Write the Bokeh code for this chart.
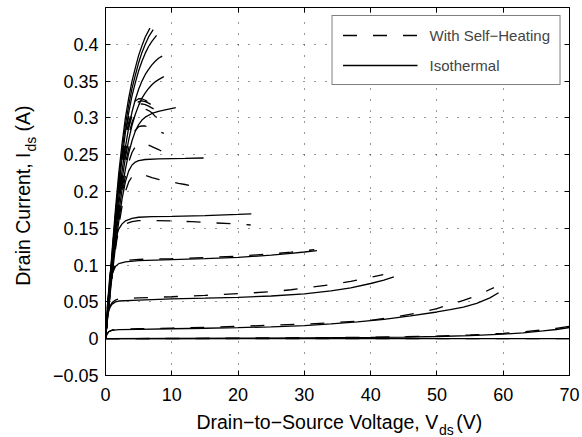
import math
from bokeh.plotting import figure
from bokeh.models import (ColumnDataSource, FixedTicker, LinearAxis, Legend,
                          LegendItem, Range1d)
from bokeh.layouts import row, column
from bokeh.core.properties import value
from bokeh.embed import file_html
from bokeh.resources import INLINE

# ---------------- data ----------------
x_ticks = [0, 10, 20, 30, 40, 50, 60, 70]
y_ticks = [-0.05, 0, 0.05, 0.1, 0.15, 0.2, 0.25, 0.3, 0.35, 0.4]
y_tick_labels = ["\u22120.05", "0", "0.05", "0.1", "0.15", "0.2", "0.25", "0.3", "0.35", "0.4"]

# curve A (highest gate bias)
vds_iso_a = [0, 0.5, 1, 1.5, 2, 2.5, 3, 3.5, 4, 4.5, 5, 5.5, 6, 6.7]
ids_iso_a = [0, 0.062, 0.12, 0.175, 0.225, 0.265, 0.3, 0.327, 0.35, 0.368, 0.385, 0.398, 0.41, 0.422]
vds_sh_a = [0, 0.5, 1, 1.5, 2, 2.5, 3, 3.5, 4, 4.5, 5, 5.5, 6, 6.5, 7]
ids_sh_a = [0, 0.06, 0.115, 0.168, 0.213, 0.25, 0.28, 0.302, 0.316, 0.323, 0.326, 0.326, 0.324, 0.321, 0.318]

# curve B
vds_iso_b = [0, 0.5, 1, 1.5, 2, 2.5, 3, 3.5, 4, 4.5, 5, 5.5, 6, 6.5, 7.2]
ids_iso_b = [0, 0.058, 0.115, 0.168, 0.215, 0.255, 0.29, 0.317, 0.34, 0.358, 0.375, 0.389, 0.4, 0.41, 0.42]
vds_sh_b = [0, 0.5, 1, 1.5, 2, 2.5, 3, 3.5, 4, 4.5, 5, 5.5, 6, 6.5, 7.3]
ids_sh_b = [0, 0.056, 0.11, 0.162, 0.206, 0.243, 0.272, 0.294, 0.309, 0.318, 0.322, 0.323, 0.322, 0.32, 0.316]

# curve C
vds_iso_c = [0, 0.5, 1, 1.5, 2, 2.5, 3, 3.5, 4, 4.5, 5, 5.5, 6, 6.5, 7, 7.7]
ids_iso_c = [0, 0.056, 0.11, 0.16, 0.205, 0.245, 0.28, 0.307, 0.33, 0.348, 0.364, 0.377, 0.388, 0.397, 0.404, 0.412]
vds_sh_c = [0, 0.5, 1, 1.5, 2, 2.5, 3, 3.5, 4, 4.5, 5, 5.5, 6, 6.5, 7.5]
ids_sh_c = [0, 0.054, 0.105, 0.155, 0.198, 0.235, 0.264, 0.287, 0.303, 0.313, 0.318, 0.319, 0.318, 0.316, 0.311]

# curve D
vds_iso_d = [0, 0.5, 1, 1.5, 2, 2.5, 3, 3.5, 4, 4.5, 5, 5.5, 6, 6.5, 7, 7.5, 8, 8.55]
ids_iso_d = [0, 0.052, 0.102, 0.15, 0.192, 0.228, 0.26, 0.287, 0.308, 0.325, 0.339, 0.35, 0.359, 0.366, 0.372, 0.377, 0.381, 0.384]
vds_sh_d = [0, 0.5, 1, 1.5, 2, 2.5, 3, 3.5, 4, 4.5, 5, 5.5, 6, 6.5, 7, 7.5, 8, 8.5, 9.2]
ids_sh_d = [0, 0.05, 0.098, 0.145, 0.186, 0.222, 0.252, 0.276, 0.294, 0.305, 0.311, 0.313, 0.312, 0.31, 0.307, 0.302, 0.299, 0.296, 0.293]

# curve E
vds_iso_e = [0, 0.5, 1, 1.5, 2, 2.5, 3, 3.5, 4, 4.5, 5, 5.5, 6, 6.5, 7, 7.5, 8, 8.8]
ids_iso_e = [0, 0.05, 0.097, 0.142, 0.182, 0.216, 0.246, 0.27, 0.29, 0.305, 0.317, 0.327, 0.334, 0.34, 0.345, 0.349, 0.352, 0.356]
vds_sh_e = [0, 0.5, 1, 1.5, 2, 2.5, 3, 3.5, 4, 4.5, 5, 5.5, 6, 6.5, 7, 7.5, 8, 8.8]
ids_sh_e = [0, 0.048, 0.094, 0.138, 0.176, 0.209, 0.237, 0.259, 0.274, 0.283, 0.288, 0.289, 0.289, 0.287, 0.285, 0.284, 0.282, 0.279]

# curve F
vds_iso_f = [0, 0.5, 1, 1.5, 2, 2.5, 3, 3.5, 4, 4.5, 5, 5.5, 6, 7, 8, 9, 10.6]
ids_iso_f = [0, 0.047, 0.092, 0.134, 0.171, 0.203, 0.23, 0.252, 0.269, 0.282, 0.291, 0.297, 0.301, 0.306, 0.309, 0.311, 0.314]
vds_sh_f = [0, 0.5, 1, 1.5, 2, 2.5, 3, 3.5, 4, 4.5, 5, 5.5, 6, 6.5, 7, 7.5, 8, 8.6]
ids_sh_f = [0, 0.046, 0.09, 0.131, 0.166, 0.196, 0.221, 0.24, 0.253, 0.261, 0.265, 0.266, 0.265, 0.263, 0.261, 0.259, 0.257, 0.254]

# curve G
vds_iso_g = [0, 0.5, 1, 1.5, 2, 2.5, 3, 3.5, 4, 4.5, 5, 6, 8, 10, 12, 14.8]
ids_iso_g = [0, 0.044, 0.086, 0.125, 0.159, 0.19, 0.213, 0.228, 0.236, 0.24, 0.242, 0.2435, 0.2443, 0.2447, 0.245, 0.2455]
vds_sh_g = [0, 0.5, 1, 1.5, 2, 2.5, 3, 3.5, 4, 4.5, 5, 5.5, 6, 7, 8, 9, 10, 11, 12, 12.8]
ids_sh_g = [0, 0.043, 0.084, 0.121, 0.153, 0.18, 0.2, 0.213, 0.22, 0.223, 0.224, 0.2235, 0.222, 0.219, 0.2165, 0.2145, 0.213, 0.211, 0.2095, 0.208]

# curve H
vds_iso_h = [0, 0.3, 0.6, 1, 1.5, 2, 2.5, 3, 4, 5, 7, 10, 15, 20, 22]
ids_iso_h = [0, 0.045, 0.08, 0.11, 0.135, 0.149, 0.156, 0.16, 0.1635, 0.165, 0.1658, 0.1663, 0.1672, 0.1688, 0.1697]
vds_sh_h = [0, 0.3, 0.6, 1, 1.5, 2, 2.5, 3, 4, 5, 7, 10, 13, 16, 19, 21.9]
ids_sh_h = [0, 0.045, 0.079, 0.107, 0.131, 0.144, 0.152, 0.156, 0.159, 0.1605, 0.1605, 0.16, 0.159, 0.1575, 0.1562, 0.1545]

# curve I
vds_iso_i = [0, 0.25, 0.5, 0.75, 1, 1.5, 2, 3, 5, 10, 15, 20, 25, 28, 30, 31.9]
ids_iso_i = [0, 0.035, 0.06, 0.077, 0.088, 0.098, 0.102, 0.1045, 0.106, 0.1075, 0.1088, 0.1105, 0.1135, 0.1158, 0.1178, 0.1198]
vds_sh_i = [0, 0.25, 0.5, 0.75, 1, 1.5, 2, 3, 5, 10, 15, 20, 25, 28, 31.5]
ids_sh_i = [0, 0.035, 0.061, 0.079, 0.09, 0.1, 0.104, 0.1065, 0.1078, 0.1088, 0.1102, 0.1122, 0.1152, 0.1175, 0.121]

# curve J
vds_iso_j = [0, 0.2, 0.4, 0.7, 1, 1.5, 2, 5, 10, 15, 20, 25, 30, 34, 37, 40, 42, 43.5]
ids_iso_j = [0, 0.022, 0.035, 0.043, 0.047, 0.05, 0.0512, 0.0525, 0.054, 0.055, 0.0562, 0.058, 0.061, 0.065, 0.069, 0.075, 0.0795, 0.084]
vds_sh_j = [0, 0.2, 0.4, 0.7, 1, 1.5, 2, 5, 10, 15, 20, 25, 28, 31, 34, 37, 40, 41.9]
ids_sh_j = [0, 0.022, 0.036, 0.045, 0.049, 0.0525, 0.054, 0.0555, 0.057, 0.0588, 0.0612, 0.0638, 0.0665, 0.07, 0.0735, 0.078, 0.0835, 0.087]

# curve K
vds_iso_k = [0, 0.2, 0.5, 1, 2, 5, 10, 15, 20, 25, 30, 34, 38, 42, 46, 50, 52, 54, 56, 58, 59.3]
ids_iso_k = [0, 0.006, 0.0095, 0.0112, 0.0122, 0.0128, 0.0135, 0.0142, 0.015, 0.0162, 0.0178, 0.0202, 0.0228, 0.0262, 0.031, 0.0363, 0.0395, 0.043, 0.048, 0.0555, 0.0625]
vds_sh_k = [0, 0.2, 0.5, 1, 2, 5, 10, 15, 20, 25, 30, 35, 40, 44, 48, 50, 52, 54, 56, 58.6]
ids_sh_k = [0, 0.006, 0.0098, 0.0118, 0.0128, 0.0135, 0.0145, 0.0155, 0.0168, 0.0183, 0.0198, 0.0222, 0.025, 0.03, 0.0363, 0.041, 0.0465, 0.052, 0.0585, 0.0695]

# curve L (near threshold)
vds_iso_l = [0, 10, 20, 30, 40, 45, 50, 55, 60, 63, 66, 68, 70]
ids_iso_l = [0, 0.0003, 0.0006, 0.001, 0.0017, 0.0022, 0.003, 0.0042, 0.0062, 0.008, 0.0105, 0.0125, 0.0152]
vds_sh_l = [0, 10, 20, 30, 40, 45, 50, 55, 60, 63, 66, 68, 70]
ids_sh_l = [0, 0.0004, 0.0008, 0.0013, 0.002, 0.0026, 0.0035, 0.005, 0.0073, 0.0093, 0.012, 0.014, 0.0168]

# curve M (off)
vds_iso_m = [0, 70]
ids_iso_m = [0, 0]
vds_sh_m = [0, 70]
ids_sh_m = [0, 0]

legend_labels = ["With Self\u2212Heating", "Isothermal"]
x_label = ["Drain\u2212to\u2212Source Voltage, V", "ds", "(V)"]
y_label = ["Drain Current, I", "ds", "(A)"]

# ---------------- layout constants ----------------
FONT = "Liberation Sans"
W, H = 582, 437
YLAB_W = 45          # strip at the left holding the y label
XLAB_H = 25          # strip at the bottom holding the x label
FL, FT, FW, FH = 105, 7, 464, 368   # frame in page pixels
MAIN_W, MAIN_H = W - YLAB_W, H - XLAB_H
LBL = "19.5px"
SUB = "14px"

p = figure(width=MAIN_W, height=MAIN_H, output_backend="svg", toolbar_location=None,
           title=None,
           x_range=Range1d(0, 70), y_range=Range1d(-0.05, 0.45),
           min_border_left=FL - YLAB_W, min_border_right=W - FL - FW,
           min_border_top=FT, min_border_bottom=MAIN_H - FT - FH,
           background_fill_color="white", border_fill_color="white")
p.outline_line_color = "black"
p.outline_line_width = 1

for ax in (p.xaxis[0], p.yaxis[0]):
    ax.axis_line_color = "black"
    ax.major_tick_in = 5
    ax.major_tick_out = 0
    ax.minor_tick_line_color = None
    ax.major_label_text_font = FONT
    ax.major_label_text_font_size = "18px"
    ax.major_label_text_color = "black"
    ax.axis_label = None

p.xaxis[0].ticker = FixedTicker(ticks=x_ticks)
p.yaxis[0].ticker = FixedTicker(ticks=y_ticks)
p.yaxis[0].major_label_overrides = {t: s for t, s in zip(y_ticks, y_tick_labels)}
p.xaxis[0].major_label_standoff = 12
p.yaxis[0].major_label_standoff = 7

# mirrored ticks on top and right (box on)
top_ax = LinearAxis(ticker=FixedTicker(ticks=x_ticks), major_tick_in=5, major_tick_out=0,
                    minor_tick_line_color=None, major_label_text_font_size="0px",
                    major_label_standoff=0, axis_line_color="black",
                    major_label_overrides={t: "" for t in x_ticks})
right_ax = LinearAxis(ticker=FixedTicker(ticks=y_ticks), major_tick_in=5, major_tick_out=0,
                      minor_tick_line_color=None, major_label_text_font_size="0px",
                      major_label_standoff=0, axis_line_color="black",
                      major_label_overrides={t: "" for t in y_ticks})
p.add_layout(top_ax, "above")
p.add_layout(right_ax, "right")

for g in (p.xgrid[0], p.ygrid[0]):
    g.grid_line_color = "#333333"
    g.grid_line_dash = "1 10"
    g.grid_line_width = 1
p.xgrid[0].ticker = FixedTicker(ticks=x_ticks)
p.ygrid[0].ticker = FixedTicker(ticks=y_ticks)

sh_src = ColumnDataSource(dict(
    xs=[vds_sh_a, vds_sh_b, vds_sh_c, vds_sh_d, vds_sh_e, vds_sh_f, vds_sh_g,
        vds_sh_h, vds_sh_i, vds_sh_j, vds_sh_k, vds_sh_l, vds_sh_m],
    ys=[ids_sh_a, ids_sh_b, ids_sh_c, ids_sh_d, ids_sh_e, ids_sh_f, ids_sh_g,
        ids_sh_h, ids_sh_i, ids_sh_j, ids_sh_k, ids_sh_l, ids_sh_m]))
iso_src = ColumnDataSource(dict(
    xs=[vds_iso_a, vds_iso_b, vds_iso_c, vds_iso_d, vds_iso_e, vds_iso_f, vds_iso_g,
        vds_iso_h, vds_iso_i, vds_iso_j, vds_iso_k, vds_iso_l, vds_iso_m],
    ys=[ids_iso_a, ids_iso_b, ids_iso_c, ids_iso_d, ids_iso_e, ids_iso_f, ids_iso_g,
        ids_iso_h, ids_iso_i, ids_iso_j, ids_iso_k, ids_iso_l, ids_iso_m]))

r_sh = p.multi_line("xs", "ys", source=sh_src, line_color="black", line_width=1.3,
                    line_dash="14 16")
r_iso = p.multi_line("xs", "ys", source=iso_src, line_color="black", line_width=1.3)

legend = Legend(items=[LegendItem(label=legend_labels[0], renderers=[r_sh]),
                       LegendItem(label=legend_labels[1], renderers=[r_iso])],
                location="top_right", margin=8, padding=10, spacing=12,
                glyph_width=75, glyph_height=18, label_height=18, label_standoff=12,
                label_text_font=FONT, label_text_font_size="15px",
                border_line_color="black", border_line_width=1,
                background_fill_color="white", background_fill_alpha=1.0)
p.add_layout(legend, "center")


def text_strip(w, h):
    f = figure(width=w, height=h, output_backend="svg", toolbar_location=None,
               title=None, x_range=Range1d(0, w), y_range=Range1d(0, h),
               x_axis_location=None, y_axis_location=None,
               min_border=0, border_fill_color="white", background_fill_color="white")
    f.outline_line_color = None
    f.xgrid.visible = False
    f.ygrid.visible = False
    return f


def put(f, x, y, txt, size, align, angle=0.0):
    f.text(x=[x], y=[y], text=[txt], angle=angle, text_align=align,
           text_baseline="alphabetic", text_font=value(FONT),
           text_font_size=value(size), text_color="black")


# x label strip (below the main figure); pixel coordinates, y from strip bottom
xl = text_strip(MAIN_W, XLAB_H)
put(xl, 385, 15.5, x_label[0], LBL, "right")
put(xl, 386, 8, x_label[1], SUB, "left")
put(xl, 406, 15.5, x_label[2], LBL, "left")

# y label strip (left of everything); pixel coordinates, y from strip bottom
yl = text_strip(YLAB_W, H)
put(yl, 22.5, H - 152, y_label[0], LBL, "right", math.pi / 2)
put(yl, 30, H - 151, y_label[1], SUB, "left", math.pi / 2)
put(yl, 22.5, H - 131, y_label[2], LBL, "left", math.pi / 2)

layout = row(yl, column(p, xl, spacing=0), spacing=0)
open("out.html", "w").write(file_html(layout, INLINE))
